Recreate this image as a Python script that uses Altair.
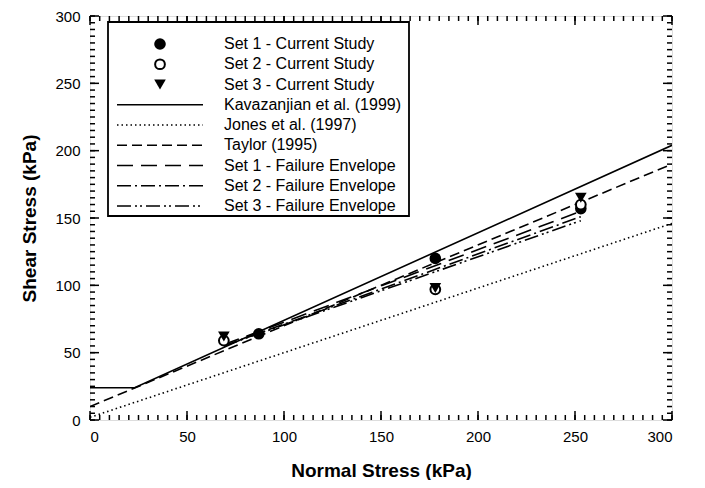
import altair as alt
import pandas as pd

# ---------------- data ----------------
set1_sigma = [87, 178, 253]
set1_tau = [64, 120, 157]
set2_sigma = [69, 178, 253]
set2_tau = [59, 97, 160]
set3_sigma = [69, 178, 253]
set3_tau = [62, 98, 165]

kav_sigma = [0, 23, 300]
kav_tau = [24, 24, 204]
jones_sigma = [0, 300]
jones_tau = [2, 146]
taylor_sigma = [0, 300]
taylor_tau = [10, 190]
env1_sigma = [69, 253]
env1_tau = [56, 155]
env2_sigma = [69, 253]
env2_tau = [55, 151]
env3_sigma = [69, 253]
env3_tau = [55, 148]

major_ticks = [0, 50, 100, 150, 200, 250, 300]
minor_ticks = list(range(0, 301, 5))

legend_labels = [
    "Set 1 - Current Study",
    "Set 2 - Current Study",
    "Set 3 - Current Study",
    "Kavazanjian et al. (1999)",
    "Jones et al. (1997)",
    "Taylor (1995)",
    "Set 1 - Failure Envelope",
    "Set 2 - Failure Envelope",
    "Set 3 - Failure Envelope",
]

# ---------------- styling ----------------
W, H = 582, 404
FONT = "Liberation Sans"
xs = alt.Scale(domain=[0, 300], nice=False, zero=False)
ys = alt.Scale(domain=[0, 300], nice=False, zero=False)

X_AX = alt.Axis(values=major_ticks, format="d", tickSize=0, domain=False, grid=False,
                labelFont=FONT, labelFontSize=15, labelColor="black", labelPadding=9,
                title="Normal Stress (kPa)", titleFont=FONT, titleFontSize=19,
                titleFontWeight="bold", titleColor="black", titlePadding=17)
Y_AX = alt.Axis(values=major_ticks, format="d", tickSize=0, domain=False, grid=False,
                labelFont=FONT, labelFontSize=15, labelColor="black", labelPadding=10,
                title="Shear Stress (kPa)", titleFont=FONT, titleFontSize=19,
                titleFontWeight="bold", titleColor="black", titlePadding=15)


def X():
    return alt.X("s:Q", scale=xs, axis=X_AX)


def Y():
    return alt.Y("t:Q", scale=ys, axis=Y_AX)


def line(sig, tau, dash=None, width=1.6):
    df = pd.DataFrame({"s": sig, "t": tau})
    kw = dict(color="black", strokeWidth=width, clip=True)
    if dash:
        kw["strokeDash"] = dash
    return alt.Chart(df).mark_line(**kw).encode(x=X(), y=Y())


def marker(df, shape, filled):
    if filled:
        return alt.Chart(df).mark_point(shape=shape, filled=True, fill="black",
                                        color="black", size=135, opacity=1)
    return alt.Chart(df).mark_point(shape=shape, filled=False, color="black",
                                    strokeWidth=2, size=95, opacity=1, fill="white")


def points(sig, tau, shape, filled):
    df = pd.DataFrame({"s": sig, "t": tau})
    return marker(df, shape, filled).encode(x=X(), y=Y())


DASH = {
    "kav": None,
    "jones": [1.5, 3],
    "taylor": [10, 5],
    "env1": [16, 8],
    "env2": [14, 4, 2, 4],
    "env3": [14, 4, 2, 3, 2, 4],
}

layers = []
# inward ticks on all four sides
major_df = pd.DataFrame({"s": major_ticks, "t": major_ticks})
minor_df = pd.DataFrame({"s": minor_ticks, "t": minor_ticks})
for df, ln in [(minor_df, 5), (major_df, 9)]:
    layers.append(alt.Chart(df).mark_rule(color="black", strokeWidth=1.5).encode(
        x=X(), y=alt.value(H), y2=alt.value(H - ln)))
    layers.append(alt.Chart(df).mark_rule(color="black", strokeWidth=1.5).encode(
        x=X(), y=alt.value(0), y2=alt.value(ln)))
    layers.append(alt.Chart(df).mark_rule(color="black", strokeWidth=1.5).encode(
        y=Y(), x=alt.value(0), x2=alt.value(ln)))
    layers.append(alt.Chart(df).mark_rule(color="black", strokeWidth=1.5).encode(
        y=Y(), x=alt.value(W), x2=alt.value(W - ln)))

layers += [
    line(kav_sigma, kav_tau, DASH["kav"]),
    line(jones_sigma, jones_tau, DASH["jones"]),
    line(taylor_sigma, taylor_tau, DASH["taylor"]),
    line(env1_sigma, env1_tau, DASH["env1"]),
    line(env2_sigma, env2_tau, DASH["env2"]),
    line(env3_sigma, env3_tau, DASH["env3"]),
    points(set1_sigma, set1_tau, "circle", True),
    points(set2_sigma, set2_tau, "circle", False),
    points(set3_sigma, set3_tau, "triangle-down", True),
]

# ---------------- legend (drawn in pixel space) ----------------
box_x0, box_x1, box_y0, box_y1 = 18, 319, 6, 200
one = pd.DataFrame({"a": [0]})
layers.append(alt.Chart(one).mark_rect(
    fill="white", stroke="black", strokeWidth=1.8).encode(
    x=alt.value(box_x0), x2=alt.value(box_x1), y=alt.value(box_y0), y2=alt.value(box_y1)))

row0, step = 28, 20.25
sym_x, line_x0, line_x1, text_x = 70, 27, 113, 134
sym_specs = [("circle", True), ("circle", False), ("triangle-down", True)]
for i, (shape, filled) in enumerate(sym_specs):
    ry = row0 + i * step
    layers.append(marker(one, shape, filled).encode(x=alt.value(sym_x), y=alt.value(ry)))

for j, key in enumerate(["kav", "jones", "taylor", "env1", "env2", "env3"]):
    ry = row0 + (j + 3) * step
    kw = dict(color="black", strokeWidth=1.6)
    if DASH[key]:
        kw["strokeDash"] = DASH[key]
    layers.append(alt.Chart(one).mark_rule(**kw).encode(
        x=alt.value(line_x0), x2=alt.value(line_x1), y=alt.value(ry)))

for i, lab in enumerate(legend_labels):
    ry = row0 + i * step
    layers.append(alt.Chart(one).mark_text(
        align="left", baseline="middle", font=FONT, fontSize=16, color="black").encode(
        x=alt.value(text_x), y=alt.value(ry), text=alt.value(lab)))

chart = alt.layer(*layers).properties(
    width=W, height=H,
    autosize=alt.AutoSizeParams(type="none"),
    padding={"left": 82, "top": 8, "right": 25, "bottom": 60},
).configure_view(stroke="black", strokeWidth=2).configure(background="white")

chart.save("out.html", embed_options={"renderer": "svg", "actions": False})
